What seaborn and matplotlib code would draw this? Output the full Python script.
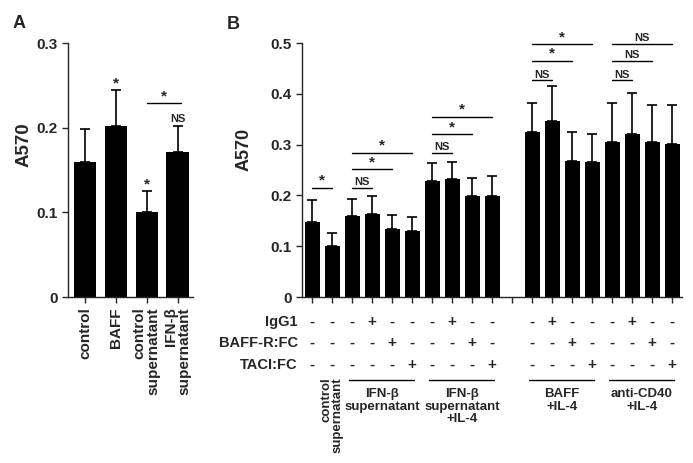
import numpy as np
import pandas as pd
import matplotlib
matplotlib.use("Agg")
import matplotlib.pyplot as plt
import seaborn as sns

# ---- Panel A data ----
a_groups = ['control', 'BAFF', 'control\nsupernatant', 'IFN-β\nsupernatant']
a_mean = [0.160, 0.202, 0.100, 0.171]
a_err_top = [0.199, 0.244, 0.125, 0.202]
a_marks = ['', '*', '*', 'NS']
a_compare = [(2, 3, 0.229, '*')]

# ---- Panel B data ----
b_mean = [0.148, 0.100, 0.159, 0.163, 0.134, 0.130, 0.229, 0.232, 0.199, 0.199,
          0.325, 0.346, 0.267, 0.265, 0.305, 0.320, 0.305, 0.302]
b_err_top = [0.191, 0.126, 0.193, 0.199, 0.161, 0.158, 0.263, 0.266, 0.235, 0.238,
             0.382, 0.416, 0.325, 0.320, 0.381, 0.401, 0.377, 0.377]
b_order = ['s0', 's1', 's2', 's3', 's4', 's5', 's6', 's7', 's8', 's9', 'gap',
           's11', 's12', 's13', 's14', 's15', 's16', 's17', 's18']
b_slots = [s for s in b_order if s != 'gap']

row_names = ['IgG1', 'BAFF-R:FC', 'TACI:FC']
igg1 = ['-', '-', '-', '+', '-', '-', '-', '+', '-', '-', '-', '+', '-', '-', '-', '+', '-', '-']
baffr = ['-', '-', '-', '-', '+', '-', '-', '-', '+', '-', '-', '-', '+', '-', '-', '-', '+', '-']
taci = ['-', '-', '-', '-', '-', '+', '-', '-', '-', '+', '-', '-', '-', '+', '-', '-', '-', '+']

b_groups = [('IFN-β\nsupernatant', 2, 5), ('IFN-β\nsupernatant\n+IL-4', 6, 9),
            ('BAFF\n+IL-4', 10, 13), ('anti-CD40\n+IL-4', 14, 17)]
b_compare = [(0, 1, 0.215, '*'), (2, 3, 0.215, 'NS'), (2, 4, 0.252, '*'), (2, 5, 0.284, '*'),
             (6, 7, 0.284, 'NS'), (6, 8, 0.320, '*'), (6, 9, 0.355, '*'),
             (10, 11, 0.427, 'NS'), (10, 12, 0.465, '*'), (10, 13, 0.498, '*'),
             (14, 15, 0.427, 'NS'), (14, 16, 0.465, 'NS'), (14, 17, 0.498, 'NS')]

sns.set_style('ticks')
plt.rcParams['font.family'] = ['Liberation Sans', 'DejaVu Sans']
plt.rcParams['font.weight'] = 'bold'
plt.rcParams['axes.linewidth'] = 1.0
plt.rcParams['xtick.major.width'] = 1.0
plt.rcParams['ytick.major.width'] = 1.0
plt.rcParams['xtick.major.size'] = 4
plt.rcParams['ytick.major.size'] = 4

fig = plt.figure(figsize=(6.93, 4.63), dpi=100)
axA = fig.add_axes([68 / 693, 0.3585, 125 / 693, 0.5486])
axB = fig.add_axes([302 / 693, 0.3585, 380 / 693, 0.5486])


def mark(ax, x, y, txt, dy):
    ax.annotate(txt, (x, y), xytext=(0, dy), textcoords='offset points',
                ha='center', va='center', fontsize=8 if txt == 'NS' else 11,
                fontweight='bold', annotation_clip=False)


def bracket(ax, x1, x2, y, txt):
    ax.plot([x1, x2], [y, y], color='black', lw=1.0, clip_on=False)
    mark(ax, (x1 + x2) / 2, y, txt, 5 if txt == '*' else 4)


# ---- Panel A ----
dfA = pd.DataFrame({'group': a_groups, 'mean': a_mean})
sns.barplot(data=dfA, x='group', y='mean', color='black', saturation=1,
            width=0.72, errorbar=None, linewidth=0, ax=axA)
xa = np.arange(len(a_groups))
axA.errorbar(xa, a_mean, yerr=[np.zeros(len(xa)), np.array(a_err_top) - np.array(a_mean)],
             fmt='none', ecolor='black', elinewidth=1.2, capsize=3.5, capthick=1.2,
             zorder=0.5)
for i, m in enumerate(a_marks):
    if m:
        mark(axA, xa[i], a_err_top[i], m, 5)
for i1, i2, y, t in a_compare:
    bracket(axA, xa[i1], xa[i2] + 0.1, y, t)
axA.set_xlim(-0.55, 3.5)
axA.set_ylim(0, 0.3)
axA.set_yticks([0, 0.1, 0.2, 0.3])
axA.set_yticklabels(['0', '0.1', '0.2', '0.3'], fontsize=11, fontweight='bold')
axA.set_xticks(xa)
axA.set_xticklabels(a_groups, rotation=90, fontsize=11, fontweight='bold',
                    va='top', ha='center', multialignment='right', linespacing=1.0)
axA.set_xlabel('')
axA.set_ylabel('A570', fontsize=13.5, fontweight='bold')
axA.yaxis.set_label_coords(-0.28, 0.6)
sns.despine(ax=axA)
fig.text(13 / 693, 1 - 28 / 463, 'A', fontsize=13, fontweight='bold')

# ---- Panel B ----
dfB = pd.DataFrame({'slot': b_slots, 'mean': b_mean})
sns.barplot(data=dfB, x='slot', y='mean', order=b_order, color='black', saturation=1,
            width=0.75, errorbar=None, linewidth=0, ax=axB)
xb = np.array([b_order.index(s) for s in b_slots])
axB.errorbar(xb, b_mean, yerr=[np.zeros(len(xb)), np.array(b_err_top) - np.array(b_mean)],
             fmt='none', ecolor='black', elinewidth=1.2, capsize=3.5, capthick=1.2,
             zorder=0.5)
for i1, i2, y, t in b_compare:
    bracket(axB, xb[i1], xb[i2], y, t)
axB.set_xlim(-0.5, 18.5)
axB.set_ylim(0, 0.5)
axB.set_yticks([0, 0.1, 0.2, 0.3, 0.4, 0.5])
axB.set_yticklabels(['0', '0.1', '0.2', '0.3', '0.4', '0.5'], fontsize=11, fontweight='bold')
axB.set_xticks(np.arange(len(b_order)))
axB.set_xticklabels([''] * len(b_order))
axB.set_xlabel('')
axB.set_ylabel('A570', fontsize=13, fontweight='bold')
axB.yaxis.set_label_coords(-0.129, 0.58)
sns.despine(ax=axB)
fig.text(227 / 693, 1 - 29 / 463, 'B', fontsize=13, fontweight='bold')

tr = axB.get_xaxis_transform()
row_y = [-0.098, -0.181, -0.268]
for name, vals, ry in zip(row_names, [igg1, baffr, taci], row_y):
    axB.text(-0.7, ry, name, transform=tr, ha='right', va='center', fontsize=10.5,
             fontweight='bold')
    for x, v in zip(xb, vals):
        axB.text(x, ry, v, transform=tr, ha='center', va='center', fontsize=11,
                 fontweight='bold')

for name, i1, i2 in b_groups:
    axB.plot([xb[i1] - 0.15, xb[i2] + 0.1], [-0.327, -0.327], transform=tr,
             color='black', lw=1.0, clip_on=False)
    axB.text((xb[i1] + xb[i2]) / 2, -0.36, name, transform=tr, ha='center', va='top',
             fontsize=9.5, fontweight='bold', linespacing=1.05)

axB.text(xb[1], -0.315, 'control\nsupernatant', transform=tr, rotation=90,
         ha='center', va='top', multialignment='right', fontsize=9.5,
         fontweight='bold', linespacing=0.9)

fig.savefig('out.png', dpi=100)
